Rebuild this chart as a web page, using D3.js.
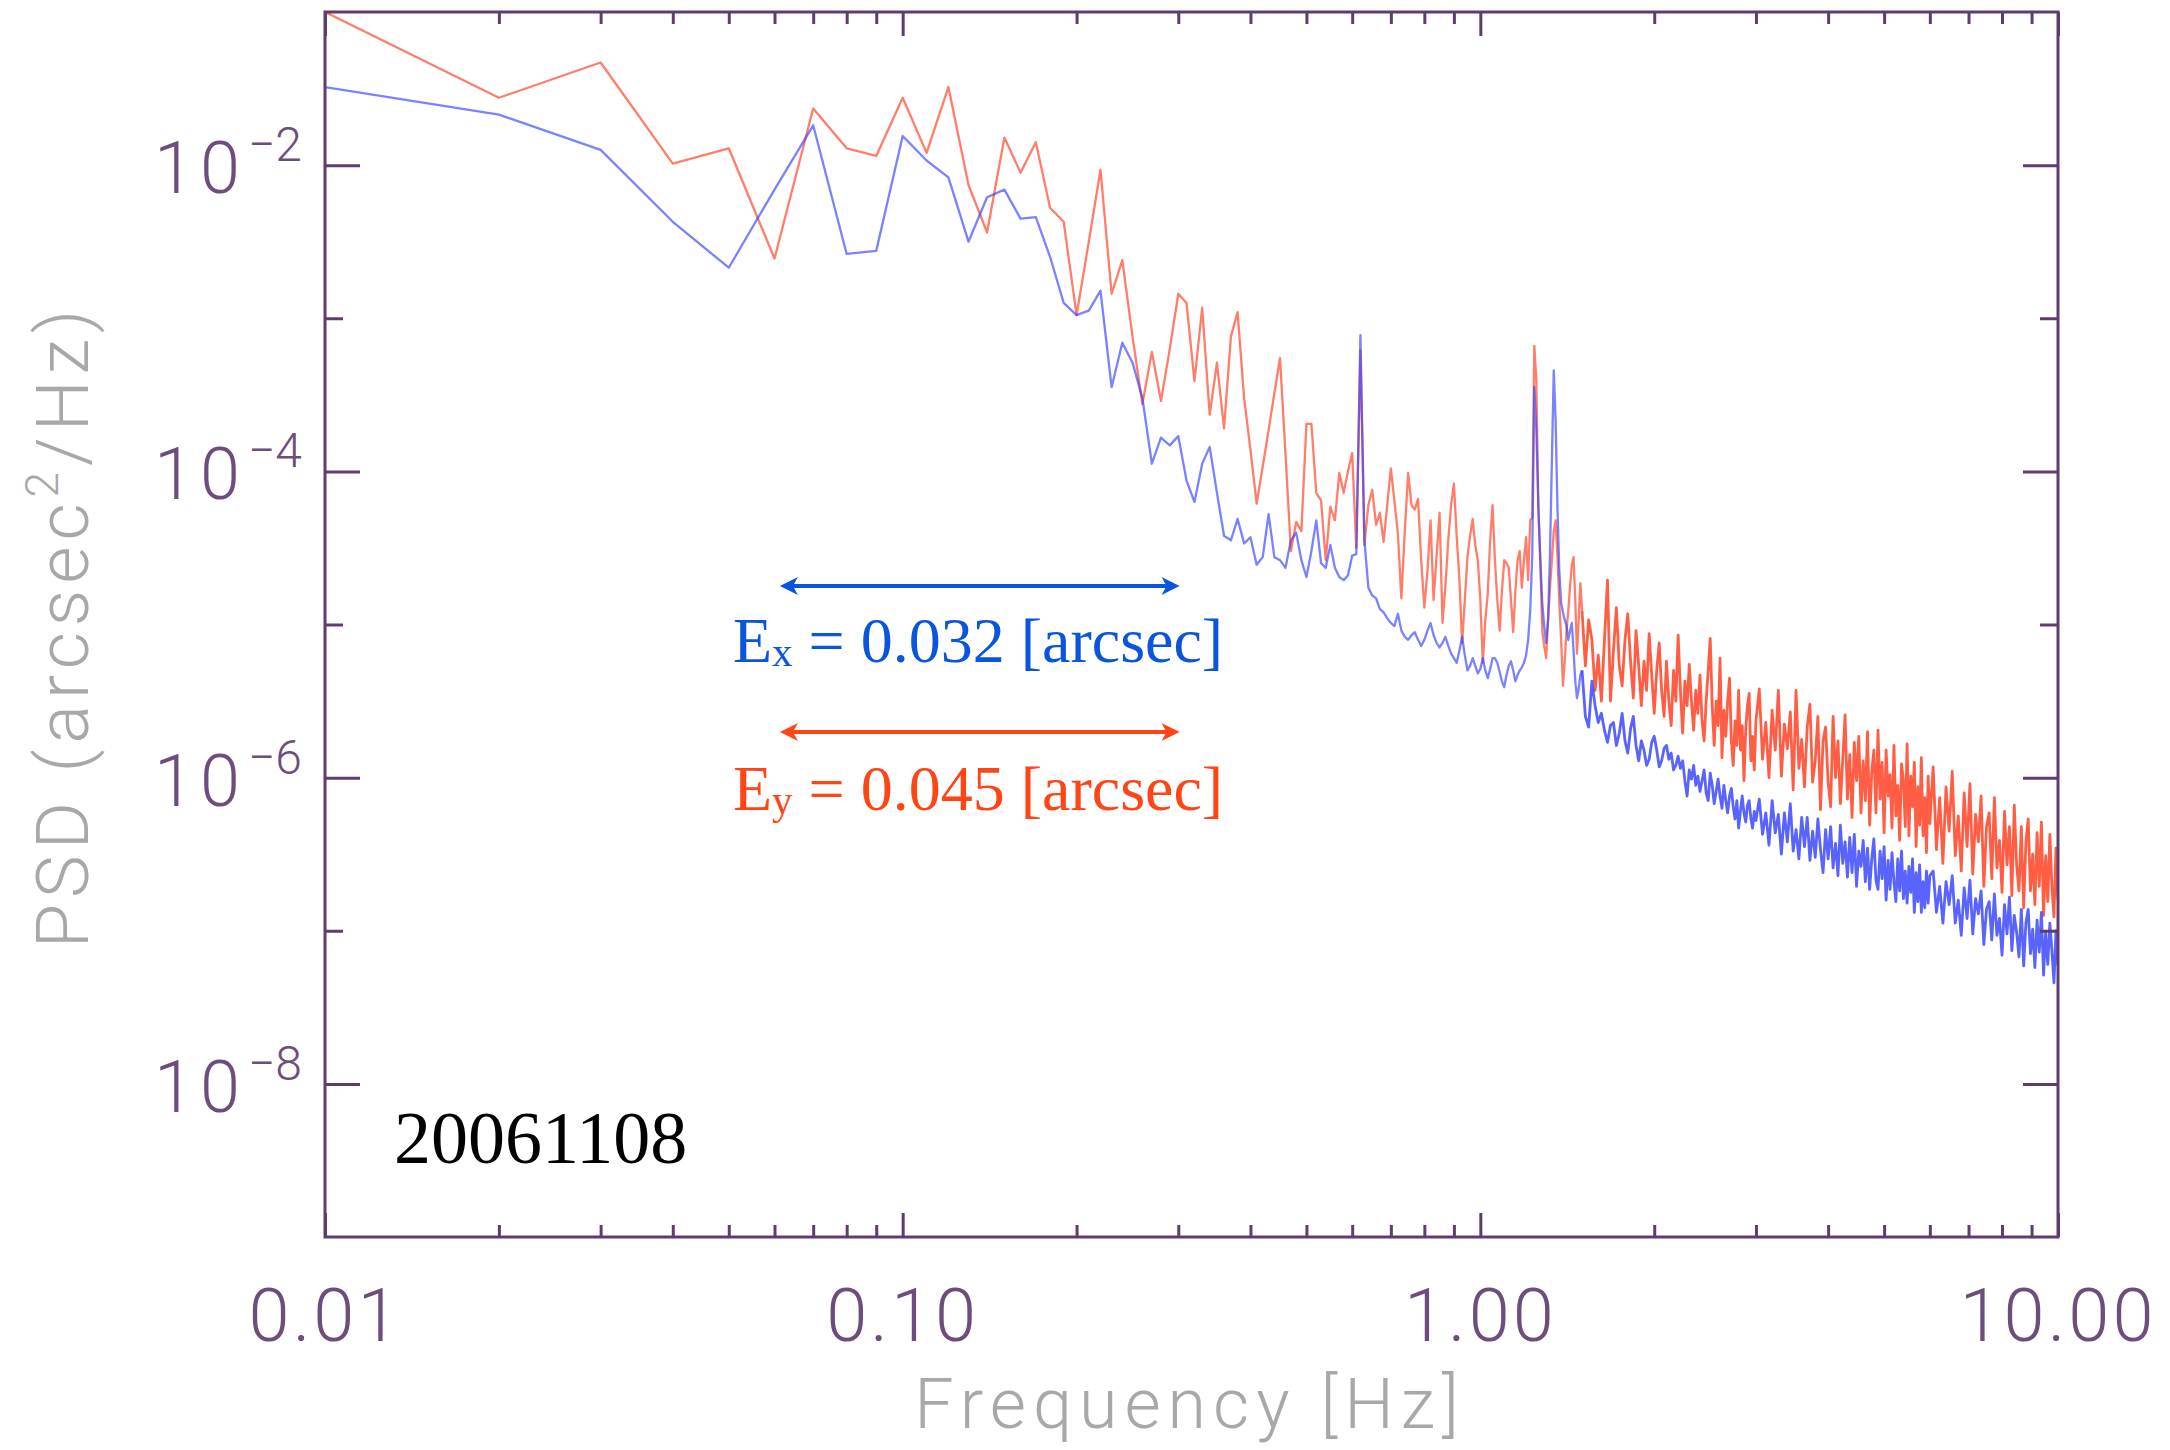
<!DOCTYPE html>
<html>
<head>
<meta charset="utf-8">
<script src="https://cdn.jsdelivr.net/npm/d3@7"></script>
<style>
  body { margin: 0; background: #fff; }
</style>
</head>
<body>
<script>
// frequency grid [Hz]
var freq = [
  0.01,0.02,0.03,0.04,0.05,0.06,0.07,0.08,0.09,0.10,
  0.11,0.12,0.13,0.14,0.15,0.16,0.17,0.18,0.19,0.20,
  0.21,0.22,0.23,0.24,0.25,0.26,0.27,0.28,0.29,0.30,
  0.31,0.32,0.33,0.34,0.35,0.36,0.37,0.38,0.39,0.40,
  0.41,0.42,0.43,0.44,0.45,0.46,0.47,0.48,0.49,0.50,
  0.51,0.52,0.53,0.54,0.55,0.56,0.57,0.58,0.59,0.60,
  0.61,0.62,0.63,0.64,0.65,0.66,0.67,0.68,0.69,0.70,
  0.71,0.72,0.73,0.74,0.75,0.76,0.77,0.78,0.79,0.80,
  0.81,0.82,0.83,0.84,0.85,0.86,0.87,0.88,0.89,0.90,
  0.91,0.92,0.93,0.94,0.95,0.96,0.97,0.98,0.99,1.00,
  1.01,1.02,1.03,1.04,1.05,1.06,1.07,1.08,1.09,1.10,
  1.11,1.12,1.13,1.14,1.15,1.16,1.17,1.18,1.19,1.20,
  1.21,1.22,1.23,1.24,1.25,1.26,1.27,1.28,1.29,1.30,
  1.31,1.32,1.33,1.34,1.35,1.36,1.37,1.38,1.39,1.40,
  1.41,1.42,1.43,1.44,1.45,1.46,1.47,1.48,1.49,1.50,
  1.52,1.54,1.56,1.58,1.60,1.62,1.64,1.66,1.68,1.70,
  1.72,1.74,1.76,1.78,1.80,1.82,1.84,1.86,1.88,1.90,
  1.92,1.94,1.96,1.98,2.00,2.02,2.04,2.06,2.08,2.10,
  2.12,2.14,2.16,2.18,2.20,2.22,2.24,2.26,2.28,2.30,
  2.32,2.34,2.36,2.38,2.40,2.42,2.44,2.46,2.48,2.50,
  2.52,2.54,2.56,2.58,2.60,2.62,2.64,2.66,2.68,2.70,
  2.72,2.74,2.76,2.78,2.80,2.82,2.84,2.86,2.88,2.90,
  2.92,2.94,2.96,2.98,3.00,
  3.04,3.08,3.12,3.16,3.20,3.24,3.28,3.32,3.36,3.40,
  3.44,3.48,3.52,3.56,3.60,3.64,3.68,3.72,3.76,3.80,
  3.84,3.88,3.92,3.96,4.00,4.04,4.08,4.12,4.16,4.20,
  4.24,4.28,4.32,4.36,4.40,4.44,4.48,4.52,4.56,4.60,
  4.64,4.68,4.72,4.76,4.80,4.84,4.88,4.92,4.96,5.00,
  5.04,5.08,5.12,5.16,5.20,5.24,5.28,5.32,5.36,5.40,
  5.44,5.48,5.52,5.56,5.60,5.64,5.68,5.72,5.76,5.80,
  5.84,5.88,5.92,5.96,6.00,
  6.08,6.16,6.24,6.32,6.40,6.48,6.56,6.64,6.72,6.80,
  6.88,6.96,7.04,7.12,7.20,7.28,7.36,7.44,7.52,7.60,
  7.68,7.76,7.84,7.92,8.00,8.08,8.16,8.24,8.32,8.40,
  8.48,8.56,8.64,8.72,8.80,8.88,8.96,9.04,9.12,9.20,
  9.28,9.36,9.44,9.52,9.60,9.68,9.76,9.84,9.92,10.00
];

// log10 PSD [arcsec^2/Hz], y direction (red)
var logPsdY = [
  -1.00,-1.56,-1.33,-1.99,-1.89,-2.61,-1.63,-1.89,-1.94,-1.56,
  -1.92,-1.49,-2.13,-2.44,-1.82,-2.05,-1.85,-2.28,-2.37,-2.98,
  -2.50,-2.03,-2.84,-2.62,-3.12,-3.56,-3.22,-3.54,-3.20,-2.84,
  -2.90,-3.41,-2.93,-3.63,-3.29,-3.72,-3.12,-2.96,-3.52,-3.86,
  -4.21,-3.97,-3.73,-3.49,-3.26,-3.89,-4.52,-4.33,-4.39,-3.69,
  -3.69,-4.14,-4.19,-4.58,-4.23,-4.32,-4.01,-4.14,-4.00,-3.88,
  -4.50,-3.21,-4.48,-4.22,-4.12,-4.35,-4.27,-4.46,-4.22,-3.98,
  -4.19,-4.41,-4.83,-4.39,-4.01,-4.22,-4.25,-4.18,-4.58,-4.89,
  -4.65,-4.32,-4.84,-4.55,-4.27,-4.99,-4.75,-4.45,-4.22,-4.08,
  -4.42,-4.71,-5.12,-4.84,-4.56,-4.42,-4.31,-4.48,-4.58,-4.84,
  -5.25,-4.97,-4.80,-4.45,-4.22,-4.58,-4.84,-5.04,-4.78,-4.58,
  -4.60,-4.63,-4.84,-5.05,-4.78,-4.58,-4.52,-4.76,-4.58,-4.43,
  -4.71,-4.32,-4.30,-3.18,-3.40,-4.24,-4.58,-5.04,-5.14,-5.22,
  -4.97,-4.76,-4.58,-4.39,-4.32,-4.55,-4.86,-5.10,-5.40,-5.24,
  -5.04,-4.91,-4.75,-4.61,-4.56,-4.84,-5.19,-4.97,-4.73,-4.91,
  -5.27,-4.97,-5.10,-5.43,-5.20,-5.50,-5.10,-4.71,-5.50,-5.17,
  -4.89,-5.27,-5.40,-5.10,-4.93,-5.24,-5.48,-5.04,-5.27,-5.53,
  -5.24,-5.43,-5.06,-5.33,-5.58,-5.30,-5.12,-5.43,-5.60,-5.24,
  -5.50,-5.66,-5.30,-5.50,-5.07,-5.43,-5.71,-5.37,-5.53,-5.26,
  -5.50,-5.69,-5.43,-5.58,-5.33,-5.63,-5.76,-5.50,-5.30,-5.09,
  -5.53,-5.79,-5.50,-5.66,-5.22,-5.87,-5.56,-5.73,-5.50,-5.35,
  -5.76,-5.92,-5.63,-5.79,-5.43,-5.82,-5.66,-6.02,-5.69,-5.53,
  -5.45,-5.89,-5.73,-5.95,-5.63,
  -5.42,-5.88,-5.64,-6.00,-5.56,-5.82,-5.43,-5.99,-5.65,-5.81,
  -5.57,-6.08,-5.43,-5.94,-5.75,-6.06,-5.67,-5.52,-6.03,-5.89,
  -5.60,-6.21,-5.76,-5.67,-6.03,-6.19,-5.60,-6.00,-5.76,-6.17,
  -5.88,-5.59,-6.14,-5.85,-6.26,-5.77,-6.02,-5.73,-6.23,-5.89,
  -6.15,-5.70,-6.31,-5.96,-5.82,-6.23,-5.69,-6.14,-5.90,-6.36,
  -5.82,-6.12,-5.98,-6.33,-5.79,-6.25,-6.05,-6.41,-5.91,-6.02,
  -6.32,-5.78,-6.38,-5.99,-6.19,-5.90,-6.45,-6.06,-6.31,-5.87,
  -6.38,-6.13,-6.49,-5.99,-6.30,
  -5.93,-6.47,-6.13,-6.56,-6.06,-6.35,-5.96,-6.51,-6.25,-6.61,
  -6.10,-6.45,-6.04,-6.63,-6.24,-6.42,-6.12,-6.71,-6.32,-6.23,
  -6.66,-6.13,-6.59,-6.41,-6.75,-6.22,-6.57,-6.32,-6.77,-6.18,
  -6.57,-6.74,-6.32,-6.85,-6.42,-6.27,-6.74,-6.50,-6.83,-6.36,
  -6.71,-6.29,-6.90,-6.51,-6.81,-6.37,-6.71,-6.91,-6.46,-6.80
];

// log10 PSD [arcsec^2/Hz], x direction (blue)
var logPsdX = [
  -1.49,-1.67,-1.90,-2.37,-2.67,-2.16,-1.74,-2.58,-2.56,-1.81,
  -1.97,-2.08,-2.50,-2.21,-2.16,-2.35,-2.34,-2.60,-2.90,-2.98,
  -2.95,-2.82,-3.45,-3.16,-3.29,-3.52,-3.95,-3.78,-3.83,-3.77,
  -4.06,-4.20,-3.95,-3.84,-4.14,-4.42,-4.45,-4.31,-4.47,-4.43,
  -4.61,-4.56,-4.28,-4.56,-4.58,-4.63,-4.45,-4.40,-4.58,-4.69,
  -4.52,-4.32,-4.60,-4.63,-4.48,-4.63,-4.69,-4.71,-4.68,-4.55,
  -4.54,-3.11,-4.45,-4.76,-4.81,-4.83,-4.90,-4.92,-4.96,-4.99,
  -5.01,-4.93,-5.04,-5.08,-5.10,-5.07,-5.05,-5.10,-5.14,-5.10,
  -5.04,-4.99,-5.07,-5.12,-5.15,-5.12,-5.08,-5.14,-5.19,-5.22,
  -5.25,-5.17,-5.08,-5.20,-5.30,-5.27,-5.22,-5.27,-5.32,-5.29,
  -5.22,-5.30,-5.35,-5.29,-5.22,-5.22,-5.25,-5.31,-5.37,-5.41,
  -5.33,-5.27,-5.24,-5.30,-5.37,-5.33,-5.30,-5.28,-5.25,-5.20,
  -5.10,-4.91,-4.54,-3.45,-3.73,-4.21,-4.58,-4.86,-5.01,-5.12,
  -4.97,-4.54,-3.93,-3.34,-3.67,-4.24,-4.65,-4.86,-4.92,-4.97,
  -5.01,-5.10,-5.04,-4.99,-5.17,-5.37,-5.48,-5.42,-5.33,-5.30,
  -5.60,-5.67,-5.37,-5.53,-5.64,-5.58,-5.69,-5.77,-5.66,-5.64,
  -5.79,-5.71,-5.58,-5.76,-5.84,-5.68,-5.60,-5.79,-5.89,-5.76,
  -5.82,-5.92,-5.88,-5.77,-5.73,-5.82,-5.93,-5.89,-5.81,-5.79,
  -5.88,-5.84,-5.95,-5.92,-5.86,-5.94,-5.89,-6.02,-6.12,-5.95,
  -6.01,-5.92,-6.05,-5.99,-6.09,-6.02,-5.95,-6.10,-6.15,-5.97,
  -6.05,-6.17,-6.09,-6.01,-6.12,-6.20,-6.05,-6.15,-6.23,-6.12,
  -6.07,-6.19,-6.27,-6.15,-6.33,-6.22,-6.12,-6.23,-6.29,-6.18,
  -6.15,-6.27,-6.33,-6.22,-6.28,
  -6.14,-6.37,-6.23,-6.44,-6.15,-6.36,-6.24,-6.50,-6.23,-6.42,
  -6.17,-6.48,-6.34,-6.53,-6.26,-6.45,-6.26,-6.54,-6.35,-6.52,
  -6.27,-6.47,-6.62,-6.34,-6.53,-6.32,-6.59,-6.43,-6.64,-6.31,
  -6.56,-6.42,-6.65,-6.39,-6.62,-6.37,-6.71,-6.48,-6.58,-6.41,
  -6.68,-6.46,-6.73,-6.53,-6.40,-6.67,-6.73,-6.48,-6.66,-6.45,
  -6.80,-6.54,-6.73,-6.49,-6.68,-6.81,-6.53,-6.74,-6.48,-6.79,
  -6.61,-6.82,-6.58,-6.75,-6.53,-6.88,-6.62,-6.81,-6.57,-6.88,
  -6.68,-6.85,-6.61,-6.82,-6.64,
  -6.61,-6.88,-6.71,-6.95,-6.68,-6.83,-6.64,-6.95,-6.80,-7.03,
  -6.72,-6.92,-6.67,-7.02,-6.79,-6.89,-6.74,-7.09,-6.86,-6.81,
  -7.06,-6.76,-7.03,-6.92,-7.16,-6.83,-7.02,-6.78,-7.13,-6.90,
  -7.01,-7.17,-6.86,-7.23,-6.95,-6.86,-7.15,-6.99,-7.24,-6.93,
  -7.14,-6.88,-7.29,-7.01,-7.22,-6.95,-7.13,-7.34,-7.00,-7.23
];

var xTickVals = [0.01, 0.1, 1, 10];
var xTickLabels = ["0.01", "0.10", "1.00", "10.00"];
var xMinorVals = [0.02,0.03,0.04,0.05,0.06,0.07,0.08,0.09,
                  0.2,0.3,0.4,0.5,0.6,0.7,0.8,0.9,
                  2,3,4,5,6,7,8,9];
var yTickVals = [1e-2, 1e-4, 1e-6, 1e-8];
var yTickExps = ["\u22122", "\u22124", "\u22126", "\u22128"];
var yMinorVals = [1e-3, 1e-5, 1e-7];

var errNames = ["x", "y"];
var errValues = [0.032, 0.045];
var errColors = ["#0a55dc", "#ff4516"];
var bandRange = [0.0613, 0.3015];

var margin = {top: 12, right: 112, bottom: 213, left: 325},
    width = 2170 - margin.left - margin.right,
    height = 1450 - margin.top - margin.bottom;

var axisColor = "#5e3d6e";
var labelColor = "#6d4d7c";
var titleColor = "#a8a8a8";
var sansFont = "Roboto, 'DejaVu Sans', sans-serif";
var serifFont = "'Liberation Serif', 'Times New Roman', serif";

var svg = d3.select("body")
  .append("svg")
    .attr("width", width + margin.left + margin.right)
    .attr("height", height + margin.top + margin.bottom)
    .style("background", "#fff")
  .append("g")
    .attr("transform", "translate(" + margin.left + "," + margin.top + ")");

var x = d3.scaleLog()
  .domain([0.01, 10])
  .range([0, width]);

var y = d3.scaleLog()
  .domain([1e-9, 1e-1])
  .range([height, 0]);

svg.append("clipPath")
    .attr("id", "plotclip")
  .append("rect")
    .attr("width", width)
    .attr("height", height);

// spectra: the dense part above 1.5 Hz piles up into a darker band
var line = d3.line()
  .x(function(d) { return x(d.f); })
  .y(function(d) { return y(d.v); });

var seriesY = freq.map(function(f, i) { return {f: f, v: Math.pow(10, logPsdY[i])}; });
var seriesX = freq.map(function(f, i) { return {f: f, v: Math.pow(10, logPsdX[i])}; });

var plot = svg.append("g").attr("clip-path", "url(#plotclip)");
function drawSeries(data, color) {
  var lo = data.filter(function(d) { return d.f <= 1.5; });
  var hi = data.filter(function(d) { return d.f >= 1.5; });
  plot.append("path")
      .datum(lo)
      .attr("d", line)
      .attr("fill", "none")
      .attr("stroke", color)
      .attr("stroke-opacity", 0.66)
      .attr("stroke-width", 2.3)
      .attr("stroke-linejoin", "round");
  plot.append("path")
      .datum(hi)
      .attr("d", line)
      .attr("fill", "none")
      .attr("stroke", color)
      .attr("stroke-opacity", 0.82)
      .attr("stroke-width", 2.8)
      .attr("stroke-linejoin", "round");
}
drawSeries(seriesY, "#ff3a1c");
drawSeries(seriesX, "#3442ff");

// frame and ticks (all inward)
function tickGroup(axis, tx, ty) {
  var g = svg.append("g")
    .attr("transform", "translate(" + tx + "," + ty + ")")
    .call(axis.tickFormat(""));
  g.select(".domain").remove();
  g.selectAll(".tick line").attr("stroke", axisColor).attr("stroke-width", 3);
}
tickGroup(d3.axisBottom(x).tickValues(xTickVals).tickSize(-24), 0, height);
tickGroup(d3.axisBottom(x).tickValues(xMinorVals).tickSize(-12), 0, height);
tickGroup(d3.axisTop(x).tickValues(xTickVals).tickSize(-24), 0, 0);
tickGroup(d3.axisTop(x).tickValues(xMinorVals).tickSize(-12), 0, 0);
tickGroup(d3.axisLeft(y).tickValues(yTickVals).tickSize(-35), 0, 0);
tickGroup(d3.axisLeft(y).tickValues(yMinorVals).tickSize(-18), 0, 0);
tickGroup(d3.axisRight(y).tickValues(yTickVals).tickSize(-35), width, 0);
tickGroup(d3.axisRight(y).tickValues(yMinorVals).tickSize(-18), width, 0);

svg.append("rect")
    .attr("width", width)
    .attr("height", height)
    .attr("fill", "none")
    .attr("stroke", axisColor)
    .attr("stroke-width", 3);

// tick labels
svg.append("g").selectAll("text")
  .data(xTickVals)
  .enter()
  .append("text")
    .attr("x", function(d) { return x(d); })
    .attr("y", height + 104)
    .attr("text-anchor", "middle")
    .style("font-family", sansFont)
    .style("font-weight", 300)
    .style("font-size", "74px")
    .style("letter-spacing", "3px")
    .style("fill", labelColor)
    .text(function(d, i) { return xTickLabels[i]; });

var yl = svg.append("g").selectAll("text")
  .data(yTickVals)
  .enter()
  .append("text")
    .attr("x", -23)
    .attr("y", function(d) { return y(d) + 28; })
    .attr("text-anchor", "end")
    .style("font-family", sansFont)
    .style("font-weight", 300)
    .style("font-size", "72px")
    .style("fill", labelColor);
yl.append("tspan").style("letter-spacing", "6px").text("10");
yl.append("tspan")
    .attr("dx", 2)
    .attr("dy", -32)
    .style("font-size", "48px")
    .text(function(d, i) { return yTickExps[i]; });

// axis titles
svg.append("text")
    .attr("x", 1190 - margin.left)
    .attr("y", height + 191)
    .attr("text-anchor", "middle")
    .style("font-family", sansFont)
    .style("font-weight", 300)
    .style("font-size", "70px")
    .style("letter-spacing", "7px")
    .style("fill", titleColor)
    .text("Frequency [Hz]");

var yt = svg.append("text")
    .attr("transform", "translate(" + (88 - margin.left) + "," + (626 - margin.top) + ") rotate(-90)")
    .attr("text-anchor", "middle")
    .style("font-family", sansFont)
    .style("font-weight", 300)
    .style("font-size", "72px")
    .style("letter-spacing", "6px")
    .style("fill", titleColor);
yt.append("tspan").text("PSD (arcsec");
yt.append("tspan").attr("dy", -30).style("font-size", "46px").text("2");
yt.append("tspan").attr("dy", 30).text("/Hz)");

// date label
svg.append("text")
    .attr("x", 394 - margin.left)
    .attr("y", 1163 - margin.top)
    .style("font-family", serifFont)
    .style("font-size", "74px")
    .style("fill", "#000")
    .text("20061108");

// error arrows and labels
var arrowY = [586 - margin.top, 732 - margin.top];
var labelY = [662 - margin.top, 810 - margin.top];
errNames.forEach(function(n, i) {
  var x1 = x(bandRange[0]), x2 = x(bandRange[1]), yy = arrowY[i];
  var c = errColors[i];
  svg.append("line")
      .attr("x1", x1 + 10).attr("x2", x2 - 10)
      .attr("y1", yy).attr("y2", yy)
      .attr("stroke", c)
      .attr("stroke-width", 4);
  svg.append("path")
      .attr("d", "M" + x2 + "," + yy + "L" + (x2 - 18) + "," + (yy - 9) +
                 "L" + (x2 - 13) + "," + yy + "L" + (x2 - 18) + "," + (yy + 9) + "Z")
      .attr("fill", c);
  svg.append("path")
      .attr("d", "M" + x1 + "," + yy + "L" + (x1 + 18) + "," + (yy - 9) +
                 "L" + (x1 + 13) + "," + yy + "L" + (x1 + 18) + "," + (yy + 9) + "Z")
      .attr("fill", c);

  var t = svg.append("text")
      .attr("x", 733 - margin.left)
      .attr("y", labelY[i])
      .style("font-family", serifFont)
      .style("font-size", "64px")
      .style("fill", c);
  t.append("tspan").text("E");
  t.append("tspan").attr("dy", 4).style("font-size", "41px").text(n);
  t.append("tspan").attr("dy", -4).text(" = " + errValues[i].toFixed(3) + " [arcsec]");
});
</script>
</body>
</html>
